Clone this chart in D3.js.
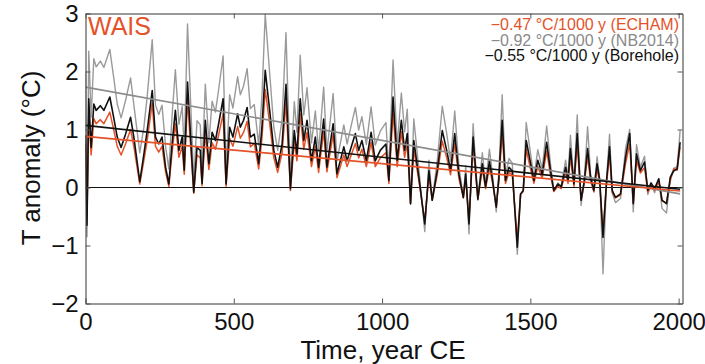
<!DOCTYPE html>
<html>
<head>
<meta charset="utf-8">
<script src="https://cdn.jsdelivr.net/npm/d3@7"></script>
<style>
  body { margin: 0; background: #fff; }
  svg text { font-family: "Liberation Sans", Arial, Helvetica, sans-serif; }
</style>
</head>
<body>
<figure id="wais" style="margin:0"></figure>
<script>
// year CE of each point
const years = [
  0,5,11,19,28,36,50,62,82,95,
  107,120,135,152,163,183,197,208,225,236,
  247,258,270,281,292,303,315,326,333,344,
  365,376,387,393,404,416,427,438,449,464,
  474,486,497,513,522,533,545,556,569,584,
  595,606,621,635,648,663,676,691,704,713,
  724,736,747,762,775,786,803,814,835,848,
  871,882,896,910,921,932,947,963,977,994,
  1013,1023,1037,1051,1065,1076,1085,1096,1107,1124,
  1144,1158,1169,1186,1203,1218,1231,1245,1259,1274,
  1282,1293,1307,1323,1338,1349,1362,1371,1385,1394,
  1405,1416,1428,1439,1456,1467,1476,1486,1501,1512,
  1525,1540,1555,1568,1579,1593,1604,1619,1627,1635,
  1647,1658,1671,1682,1693,1703,1714,1725,1734,1745,
  1757,1767,1776,1787,1804,1821,1835,1847,1858,1871,
  1885,1896,1907,1919,1933,1944,1959,1972,1984,1995,
  2005
];
const borehole = [
  0.9,-0.65,1.53,0.69,1.44,1.33,1.41,1.33,1.56,1.21,
  0.87,0.69,0.92,1.21,0.87,0.1,0.58,0.98,1.67,0.87,
  0.75,0.87,0.35,0.06,0.75,1.33,0.64,0.87,0.3,1.82,
  -0.08,0.69,0.64,0.07,1.16,0.41,0.95,0.81,1.1,1.53,
  0.06,1.04,0.87,1.27,1.04,1.16,1.38,0.87,0.92,0.41,
  1.04,2.02,1.33,0.64,0.35,0.75,1.78,-0.02,0.98,0.58,
  1.53,0.81,1.16,0.46,0.87,0.35,1.18,0.35,1.1,0.24,
  0.7,0.46,0.7,0.93,0.64,0.81,0.46,0.95,0.46,0.64,
  0.75,0.12,1.56,0.47,1.16,0.64,0.93,-0.28,0.81,0.18,
  -0.63,0.29,-0.22,0.29,0.98,0.64,0.29,0.93,0.23,-0.17,
  0.23,-0.63,0.87,-0.2,0.41,0.01,0.45,0.18,-0.34,0.18,
  1.16,0.12,0.35,0.29,-1.03,-0.11,-0.05,0.81,0.41,0.12,
  0.47,0.23,0.78,0.29,-0.05,0.06,0.01,0.35,0.12,0.67,
  0.06,0.93,-0.22,0.12,0.67,0.18,-0.05,0.41,0.12,-0.86,
  0.12,0.7,-0.05,-0.17,-0.11,0.52,0.93,-0.28,0.58,0.29,
  0.44,-0.05,0.08,-0.02,0.15,-0.22,-0.28,0.18,0.29,0.32,
  0.78
];
const echam = [
  0.74,-0.5,1.27,0.56,1.19,1.10,1.17,1.10,1.30,1.0,
  0.71,0.56,0.75,1.0,0.71,0.06,0.47,0.81,1.45,0.71,
  0.61,0.71,0.27,0.02,0.6,1.1,0.52,0.71,0.23,1.52,
  -0.1,0.56,0.51,0.03,0.95,0.31,0.77,0.66,0.91,1.27,
  0.02,0.85,0.71,1.05,0.85,0.95,1.14,0.7,0.76,0.32,
  0.85,1.69,1.1,0.51,0.26,0.6,1.48,-0.05,0.8,0.46,
  1.27,0.66,0.95,0.36,0.71,0.26,0.97,0.27,0.91,0.17,
  0.56,0.36,0.56,0.76,0.51,0.66,0.36,0.78,0.36,0.51,
  0.6,0.07,1.29,0.36,0.96,0.52,0.76,-0.27,0.66,0.12,
  -0.57,0.21,-0.22,0.22,0.8,0.51,0.22,0.76,0.16,-0.18,
  0.16,-0.57,0.7,-0.2,0.32,-0.02,0.35,0.12,-0.32,0.12,
  0.95,0.07,0.26,0.22,-0.9,-0.12,-0.07,0.66,0.31,0.07,
  0.36,0.16,0.63,0.21,-0.07,0.02,-0.02,0.26,0.07,0.53,
  0.02,0.75,-0.22,0.07,0.54,0.12,-0.07,0.32,0.07,-0.76,
  0.07,0.56,-0.08,-0.18,-0.13,0.41,0.76,-0.27,0.46,0.25,
  0.34,-0.08,0.03,-0.05,0.1,-0.22,-0.27,0.12,0.33,0.3,
  0.7
];
const nb2014 = [
  2.0,-0.85,2.35,1.21,2.22,2.08,2.18,2.07,2.38,1.9,
  1.44,1.2,1.5,1.89,1.43,0.6,1.04,1.57,2.55,1.42,
  1.26,1.42,0.71,0.32,1.24,2.03,1.09,1.4,0.63,2.82,
  0.11,1.15,1.08,0.31,1.78,0.77,1.49,1.3,1.69,2.27,
  0.28,1.6,1.37,1.91,1.6,1.75,2.05,1.36,1.43,0.73,
  1.58,2.99,1.97,1.04,0.64,1.19,2.67,0.13,1.48,0.95,
  2.28,1.25,1.72,0.77,1.32,0.62,1.73,0.61,1.62,0.46,
  1.08,0.75,1.07,1.38,0.99,1.22,0.74,1.39,0.73,0.97,
  1.12,0.26,2.2,0.73,1.63,0.96,1.35,-0.29,1.18,0.32,
  -0.76,0.47,-0.22,0.46,1.4,0.93,0.46,1.32,0.37,-0.17,
  0.37,-0.8,1.1,-0.22,0.6,0.06,0.66,0.28,-0.42,0.28,
  1.6,0.2,0.5,0.42,-1.15,-0.12,-0.05,1.12,0.57,0.18,
  0.65,0.32,1.06,0.4,-0.06,0.08,0.02,0.47,0.16,0.9,
  0.07,1.25,-0.31,0.15,1.05,0.23,-0.08,0.53,0.14,-1.49,
  0.14,0.92,-0.1,-0.26,-0.19,0.67,1.0,-0.42,0.74,0.35,
  0.54,-0.12,0.05,-0.09,0.15,-0.36,-0.44,0.18,0.33,0.36,
  0.98
];

// linear trends, start and end
const trendYears = [0, 2005];
const trendEcham = [0.88, -0.06];
const trendNB2014 = [1.73, -0.11];
const trendBorehole = [1.07, -0.03];

const legendLabels = [
  "\u22120.47 \u00b0C/1000 y (ECHAM)",
  "\u22120.92 \u00b0C/1000 y (NB2014)",
  "\u22120.55 \u00b0C/1000 y (Borehole)"
];
const xTicks = [0, 500, 1000, 1500, 2000];
const yTicks = [-2, -1, 0, 1, 2, 3];

const orange = "#e4522a";
const grey = "#9a9a9a";
const black = "#111";

const W = 705, H = 364;
const margin = { top: 13, right: 23, bottom: 61, left: 85 };
const width = W - margin.left - margin.right;
const height = H - margin.top - margin.bottom;

const svg = d3.select("figure#wais")
  .append("svg")
  .attr("width", W)
  .attr("height", H);

const g = svg.append("g")
  .attr("transform", "translate(" + (margin.left + 0.5) + "," + (margin.top + 0.5) + ")");

const x = d3.scaleLinear().domain([0, 2013]).range([0, width]);
const y = d3.scaleLinear().domain([-2, 3]).range([height, 0]);

g.append("clipPath").attr("id", "plotclip")
  .append("rect").attr("width", width).attr("height", height);

// zero line
g.append("line")
  .attr("x1", 0).attr("x2", width)
  .attr("y1", y(0)).attr("y2", y(0))
  .attr("stroke", "#111").attr("stroke-width", 1);

const line = d3.line()
  .x(d => x(d[0]))
  .y(d => y(d[1]));

const plot = g.append("g").attr("clip-path", "url(#plotclip)");

const series = [
  { vals: nb2014, color: grey, w: 1.4 },
  { vals: echam, color: orange, w: 1.5 },
  { vals: borehole, color: black, w: 1.6 }
];
series.forEach(s => {
  plot.append("path")
    .datum(years.map((yr, i) => [yr, s.vals[i]]))
    .attr("d", line)
    .attr("fill", "none")
    .attr("stroke", s.color)
    .attr("stroke-width", s.w)
    .attr("stroke-linejoin", "round");
});

// trend lines
[[trendNB2014, "#8c8c8c"], [trendEcham, orange], [trendBorehole, black]].forEach(t => {
  plot.append("path")
    .datum(trendYears.map((yr, i) => [yr, t[0][i]]))
    .attr("d", line)
    .attr("fill", "none")
    .attr("stroke", t[1])
    .attr("stroke-width", 1.7);
});

// axes, ticks pointing inward
const fmt = d3.format("d");
g.append("g")
  .attr("transform", "translate(0," + height + ")")
  .call(d3.axisBottom(x).tickValues(xTicks).tickFormat(fmt).tickSizeInner(-5).tickSizeOuter(0).tickPadding(9));
g.append("g")
  .call(d3.axisLeft(y).tickValues(yTicks).tickFormat(fmt).tickSizeInner(-5).tickSizeOuter(0).tickPadding(7));
g.append("g")
  .call(d3.axisTop(x).tickValues(xTicks).tickSizeInner(-5).tickSizeOuter(0).tickFormat(""));
g.append("g")
  .attr("transform", "translate(" + width + ",0)")
  .call(d3.axisRight(y).tickValues(yTicks).tickSizeInner(-5).tickSizeOuter(0).tickFormat(""));

g.selectAll(".domain").attr("stroke", "#333");
g.selectAll(".tick line").attr("stroke", "#555");
g.selectAll(".tick text")
  .attr("fill", "#111")
  .style("font-size", "24px")
  .style("font-family", "'Liberation Sans', Arial, sans-serif");

// axis labels
svg.append("text")
  .attr("x", 383).attr("y", 359)
  .attr("text-anchor", "middle")
  .style("font-size", "26px")
  .attr("fill", "#111")
  .text("Time, year CE");

svg.append("text")
  .attr("transform", "translate(40,158) rotate(-90)")
  .attr("text-anchor", "middle")
  .style("font-size", "26px")
  .attr("fill", "#111")
  .text("T anomaly (\u00b0C)");

// panel label
svg.append("text")
  .attr("x", 88).attr("y", 35)
  .style("font-size", "25px")
  .attr("fill", orange)
  .text("WAIS");

// legend
const legendColors = [orange, "#8a8a8a", black];
legendLabels.forEach((t, i) => {
  svg.append("text")
    .attr("x", 679).attr("y", 30 + i * 15.5)
    .attr("text-anchor", "end")
    .style("font-size", "16px")
    .attr("fill", legendColors[i])
    .text(t);
});
</script>
</body>
</html>
